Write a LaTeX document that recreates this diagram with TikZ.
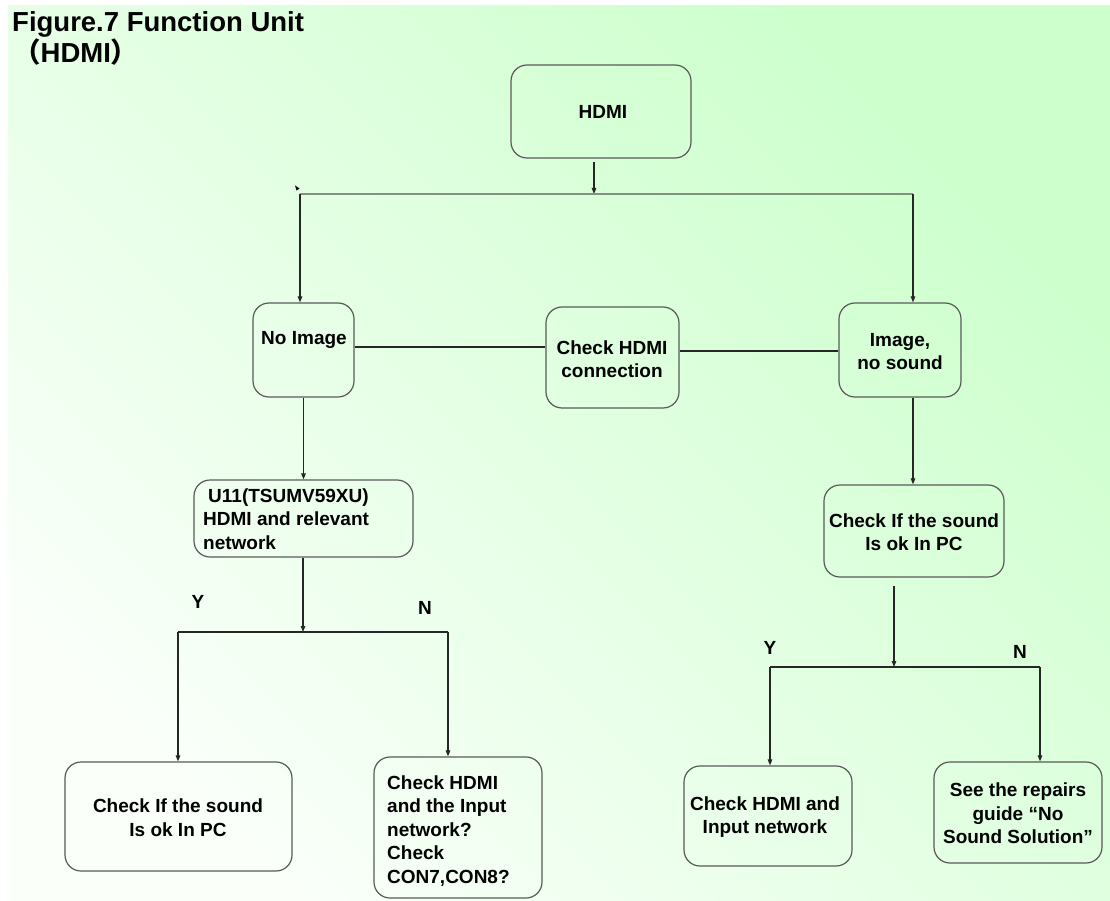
\documentclass[tikz,border=0pt]{standalone}
\usepackage{fontspec}
\setmainfont{Liberation Sans}
\newfontfamily\cjk{Noto Sans CJK SC}
\usetikzlibrary{arrows.meta}

\definecolor{bgA}{RGB}{204,255,204}
\definecolor{bgB}{RGB}{250,255,250}
\definecolor{boxline}{RGB}{90,90,90}
\definecolor{hline}{RGB}{130,145,130}

\begin{document}
\begin{tikzpicture}[x=1pt,y=-1pt,
  box/.style={draw=boxline, line width=1.2pt, rounded corners=16pt, inner sep=0pt},
  txt/.style={font=\bfseries\fontsize{19}{23.5}\selectfont, align=center, inner sep=0pt, text=black},
  conn/.style={draw=black!85, line width=1.1pt},
  arr/.style={conn, -{Triangle[length=6pt,width=4.5pt]}},
  lbl/.style={font=\bfseries\fontsize{19}{20}\selectfont, inner sep=0pt},
  ttl/.style={font=\bfseries\fontsize{27.5}{30}\selectfont, inner sep=0pt}]

\useasboundingbox (0,0) rectangle (1110,901);
\fill[white] (0,0) rectangle (1110,901);
\shade[top color=bgA, bottom color=bgB, shading angle=-45] (8,6) rectangle (1110,901);

% title
\node[ttl, anchor=base west] (title1) at (12,32) {Figure.7 Function Unit};
\node[ttl, anchor=base west] (title2) at (13,63) {{\cjk （}HDMI{\cjk ）}};

% boxes
\node[box, minimum width=180pt, minimum height=93pt] (hdmi) at (601,111.5) {};
\node[box, minimum width=101pt, minimum height=94pt] (noimg) at (303.5,350) {};
\node[box, minimum width=133pt, minimum height=101pt] (chk) at (612.5,357.5) {};
\node[box, minimum width=122pt, minimum height=94pt] (imgns) at (900,350) {};
\node[box, minimum width=219pt, minimum height=77pt] (u11) at (303.5,518.5) {};
\node[box, minimum width=180pt, minimum height=92pt] (sndR) at (914,531) {};
\node[box, minimum width=227pt, minimum height=109pt] (sndL) at (178.5,816.5) {};
\node[box, minimum width=168pt, minimum height=141pt] (con) at (458,827.5) {};
\node[box, minimum width=168pt, minimum height=100pt] (inp) at (768,816) {};
\node[box, minimum width=168pt, minimum height=101pt] (rep) at (1018,812.5) {};

% texts
\node[txt] (hdmiT) at (603,112) {HDMI};
\node[txt] (noimgT) at (304,340) {No Image};
\node[txt] (chkT) at (612,359) {Check HDMI\\connection};
\node[txt] (imgnsT) at (900,351.5) {Image,\\no sound};
\node[txt, align=left, anchor=west] (u11T) at (203,519) {\hspace*{5pt}U11(TSUMV59XU)\\HDMI and relevant\\network};
\node[txt] (sndRT) at (914,532) {Check If the sound\\Is ok In PC};
\node[txt] (sndLT) at (178,817.5) {Check If the sound\\Is ok In PC};
\node[txt, align=left, anchor=west] (conT) at (387,831) {Check HDMI\\and the Input\\network?\\Check\\CON7,CON8?};
\node[txt] (inpT) at (765,817) {Check HDMI and\\Input network};
\node[txt] (repT) at (1018,813.5) {See the repairs\\guide “No\\Sound Solution”};

% labels
\node[lbl] (y1) at (198,602) {Y};
\node[lbl] (n1) at (425,608) {N};
\node[lbl] (y2) at (770,648) {Y};
\node[lbl] (n2) at (1020,652) {N};

% junctions
\coordinate (jT) at (594,194);
\coordinate (jL) at (300,194);
\coordinate (jR) at (913,194);
\coordinate (m1) at (0,347);
\coordinate (m2) at (0,351);
\coordinate (jU) at (303,632);
\coordinate (jUL) at (178,632);
\coordinate (jUR) at (448,632);
\coordinate (jS) at (894,667);
\coordinate (jSL) at (770,667);
\coordinate (jSR) at (1040,667);

% connectors
\draw[arr, shorten <=3pt] (hdmi.south -| jT) -- (jT);
\draw[draw=hline, line width=1.6pt] (jL) -- (jR);
\fill[black] (295,185.5) -- (299.5,188.5) -- (296.5,190.5) -- cycle;
\draw[arr] (jL) -- (noimg.north -| jL);
\draw[arr] (jR) -- (imgns.north -| jR);
\draw[conn] (noimg.east |- m1) -- (chk.west |- m1);
\draw[conn] (chk.east |- m2) -- (imgns.west |- m2);
\draw[arr] (noimg.south) -- (u11.north);
\draw[arr] (u11.south -| jU) -- (jU);
\draw[conn] (jUL) -- (jUR);
\draw[arr] (jUL) -- (sndL.north -| jUL);
\draw[arr] (jUR) -- (con.north -| jUR);
\draw[arr] (imgns.south -| jR) -- (sndR.north -| jR);
\draw[arr, shorten <=8pt] (sndR.south -| jS) -- (jS);
\draw[conn] (jSL) -- (jSR);
\draw[arr] (jSL) -- (inp.north -| jSL);
\draw[arr] (jSR) -- (rep.north -| jSR);
\end{tikzpicture}
\end{document}
